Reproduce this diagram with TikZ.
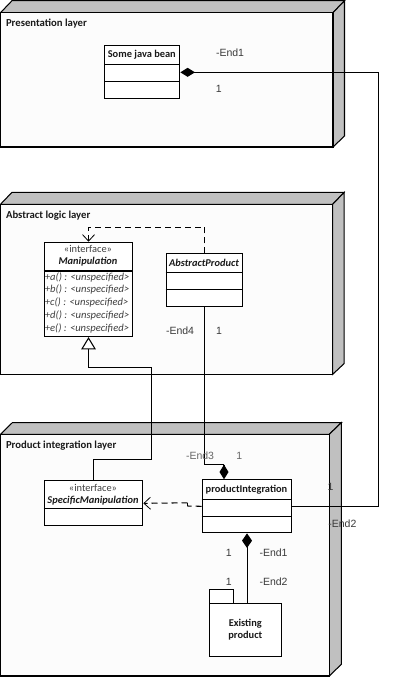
\documentclass[tikz,border=0pt]{standalone}
\usepackage{fontspec}
\setmainfont{Carlito}
\newfontfamily\arialf{Liberation Sans}
\usetikzlibrary{arrows.meta}
\definecolor{layergray}{HTML}{C0C0C0}
\definecolor{frontfill}{HTML}{FCFCFC}
\definecolor{txtdark}{HTML}{1A1A1A}
\definecolor{txtgray}{HTML}{404040}
\definecolor{endgray}{HTML}{3A3A3A}
\begin{document}
\begin{tikzpicture}[x=1pt,y=-1pt,
  line width=1.05pt,
  classbox/.style={draw, line width=1.05pt, fill=white, anchor=north west, inner sep=0pt},
  boldtxt/.style={font=\fontsize{10.4}{12}\selectfont\bfseries, text=txtdark, inner sep=0pt},
  bitxt/.style={font=\fontsize{10.4}{12}\selectfont\bfseries\itshape, text=txtdark, inner sep=0pt},
  stereo/.style={font=\fontsize{10.4}{12}\selectfont, text=txtgray, inner sep=0pt},
  methtxt/.style={font=\fontsize{10.6}{12}\selectfont\itshape, text=txtgray, inner sep=0pt, anchor=west},
  layerlbl/.style={font=\fontsize{10.7}{12}\selectfont\bfseries, text=txtdark, inner sep=0pt, anchor=west},
  endlbl/.style={font=\arialf\fontsize{10.5}{12}\selectfont, text=endgray, inner sep=0pt},
  comp/.style={-{Diamond[length=14.6pt,width=9pt]}},
  compstart/.style={{Diamond[length=14.6pt,width=10pt]}-},
  dep/.style={dashed, dash pattern=on 6pt off 4pt, -{Straight Barb[length=6.5pt,width=12pt,line width=0.8pt]}},
  gen/.style={-{Triangle[open,length=12.3pt,width=14.6pt,fill=white]}}
]
\useasboundingbox (0,0) rectangle (412,677);

% ---------- layers ----------
% Presentation layer
\fill[layergray,draw=black] (0.5,12.7) -- (12,0.7) -- (344.5,0.7) -- (333,12.7) -- cycle;
\fill[layergray,draw=black] (333,12.7) -- (344.5,0.7) -- (344.5,136) -- (333,147) -- cycle;
\draw[fill=frontfill] (0.5,12.7) rectangle (333,147);
\node[layerlbl] (l1) at (5.5,24) {Presentation layer};
% Abstract logic layer
\fill[layergray,draw=black] (0.5,204.3) -- (12,192.3) -- (344.2,192.3) -- (332.7,204.3) -- cycle;
\fill[layergray,draw=black] (332.7,204.3) -- (344.2,192.3) -- (344.2,363.5) -- (332.7,374.3) -- cycle;
\draw[fill=frontfill] (0.5,204.3) rectangle (332.7,374.3);
\node[layerlbl] (l2) at (5.5,215.7) {Abstract logic layer};
% Product integration layer
\fill[layergray,draw=black] (0.5,434.3) -- (12.3,422.7) -- (341.3,422.7) -- (329.3,434.3) -- cycle;
\fill[layergray,draw=black] (329.3,434.3) -- (341.3,422.7) -- (341.3,664.3) -- (329.3,676) -- cycle;
\draw[fill=frontfill] (0.5,434.3) rectangle (329.3,676);
\node[layerlbl] (l3) at (5.5,445.7) {Product integration layer};

% ---------- classes ----------
% Some java bean
\node[classbox, minimum width=75pt, minimum height=53pt] (bean) at (104.3,45.3) {};
\draw (104.3,64.3) -- (179.3,64.3);
\draw (104.3,81.3) -- (179.3,81.3);
\node[boldtxt] (beant) at (141.8,54.6) {Some java bean};

% Manipulation
\node[classbox, minimum width=88.6pt, minimum height=94.3pt] (manip) at (43.7,241.7) {};
\draw (43.7,271) -- (132.3,271);
\node[stereo] (manips) at (88,248.6) {«interface»};
\node[bitxt] (manipt) at (88,261.9) {Manipulation};
\node[methtxt] (ma) at (44.3,277.2) {+a() : <unspecified>};
\node[methtxt] (mb) at (44.3,289.9) {+b() : <unspecified>};
\node[methtxt] (mc) at (44.3,302.8) {+c() : <unspecified>};
\node[methtxt] (md) at (44.3,315.5) {+d() : <unspecified>};
\node[methtxt] (me) at (44.3,328.4) {+e() : <unspecified>};

% AbstractProduct
\node[classbox, minimum width=76.6pt, minimum height=52.7pt] (ap) at (165.7,253.3) {};
\draw (165.7,272.7) -- (242.3,272.7);
\draw (165.7,289.3) -- (242.3,289.3);
\node[bitxt] (apt) at (204,262.6) {AbstractProduct};

% SpecificManipulation
\node[classbox, minimum width=98.6pt, minimum height=45pt] (sm) at (43.7,480.3) {};
\draw (43.7,508.7) -- (142.3,508.7);
\node[stereo] (sms) at (93,487.9) {«interface»};
\node[bitxt] (smt) at (93,500.5) {SpecificManipulation};

% productIntegration
\node[classbox, minimum width=89.6pt, minimum height=53pt] (pint) at (201.7,479.3) {};
\draw (201.7,499.3) -- (291.3,499.3);
\draw (201.7,516.3) -- (291.3,516.3);
\node[boldtxt] (pintt) at (246.5,489.5) {productIntegration};

% Existing product (package)
\draw[fill=white] (209.3,589.3) rectangle (233.3,603.3);
\node[classbox, minimum width=72pt, minimum height=53pt] (pkg) at (209.3,603.3) {};
\node[boldtxt, align=center, font=\fontsize{10.4}{12.7}\selectfont\bfseries] (pkgt) at (245.3,629.7) {Existing\\product};

% ---------- connectors ----------
\coordinate (cR) at (378.3,300);
\draw[comp] (pint.east) -| (cR) |- (bean.east);

\coordinate (cA) at (150,227.3);
\draw[dep] (ap.north) |- (cA) -| (manip.north);

\coordinate (g1) at (151.7,459.3);
\coordinate (g2) at (151.7,367.3);
\draw[gen] (sm.north) |- (g1) |- (g2) -| (manip.south);

\coordinate (dtop) at (224,464.7);
\draw (ap.south) |- (dtop);
\draw[comp] (dtop) -- (dtop |- pint.north);

\coordinate (j1) at (187.5,506);
\draw[dash pattern=on 6pt off 4pt] (pint.west) -- (j1);
\draw (j1) -- (187.5,502.8);
\draw[dep] (187.5,502.8) -- (sm.east);

\draw[compstart] (pint.south) -- (pint.south |- pkg.north);

% ---------- end labels ----------
\node[endlbl, anchor=west] (e1) at (215.5,52.3) {-End1};
\node[endlbl] (e1m) at (218.7,89.3) {1};
\node[endlbl, anchor=west] (e4) at (165.5,330.7) {-End4};
\node[endlbl] (e4m) at (219,330.7) {1};
\node[endlbl, anchor=west, text=txtgray!80] (e3) at (185.5,455.7) {-End3};
\node[endlbl, text=txtgray!80] (e3m) at (239.3,455.7) {1};
\node[endlbl] (e2m) at (330.5,487.3) {1};
\node[endlbl, anchor=west] (e2) at (327.8,524) {-End2};
\node[endlbl] (p1m) at (228.7,552.7) {1};
\node[endlbl, anchor=west] (p1) at (259,552.7) {-End1};
\node[endlbl] (p2m) at (228.7,582) {1};
\node[endlbl, anchor=west] (p2) at (259,582) {-End2};
\end{tikzpicture}
\end{document}
